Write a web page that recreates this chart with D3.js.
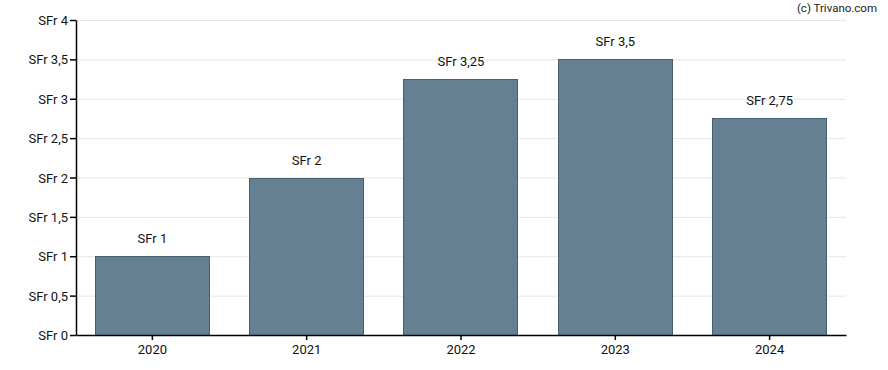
<!DOCTYPE html>
<html>
<head>
<meta charset="utf-8">
<script src="https://cdn.jsdelivr.net/npm/d3@7"></script>
<style>
  body { margin: 0; background: #fff; }
  svg text { font-family: Roboto, "Liberation Sans", sans-serif; }
</style>
</head>
<body>
<div id="chart"></div>
<script>
// values
var years = ['2020', '2021', '2022', '2023', '2024'];
var dividends = [1, 2, 3.25, 3.5, 2.75];
var yTicks = [0, 0.5, 1, 1.5, 2, 2.5, 3, 3.5, 4];

var width = 888, height = 370;
var margin = { top: 20, right: 42, bottom: 35, left: 76 };

function fmt(v) {
    return 'SFr ' + String(v).replace('.', ',');
}

var svg = d3.select('#chart')
    .append('svg')
    .attr('width', width)
    .attr('height', height);

var x = d3.scaleBand()
    .domain(years)
    .range([margin.left, width - margin.right])
    .paddingInner(0.26)
    .paddingOuter(0.125);

var y = d3.scaleLinear()
    .domain([0, 4])
    .range([height - margin.bottom, margin.top]);

// grid lines
svg.append('g')
    .selectAll('line')
    .data(yTicks.slice(1))
    .enter()
    .append('line')
    .attr('x1', margin.left)
    .attr('x2', width - margin.right)
    .attr('y1', function(d) { return y(d) + 0.5; })
    .attr('y2', function(d) { return y(d) + 0.5; })
    .attr('stroke', '#e6e6e6')
    .attr('stroke-width', 1);

// bars
svg.append('g')
    .selectAll('rect')
    .data(dividends)
    .enter()
    .append('rect')
    .attr('x', function(d, i) { return Math.floor(x(years[i])) + 0.5; })
    .attr('y', function(d) { return Math.round(y(d)) + 0.5; })
    .attr('width', Math.round(x.bandwidth()))
    .attr('height', function(d) { return Math.round(y(0)) - Math.round(y(d)); })
    .attr('fill', '#658093')
    .attr('stroke', '#46606f')
    .attr('stroke-width', 1);

// value labels
svg.append('g')
    .selectAll('text')
    .data(dividends)
    .enter()
    .append('text')
    .attr('x', function(d, i) { return x(years[i]) + x.bandwidth() / 2; })
    .attr('y', function(d) { return y(d) - 13; })
    .attr('text-anchor', 'middle')
    .attr('font-size', 13)
    .attr('fill', '#111')
    .text(fmt);

// axes
var yAxis = svg.append('g')
    .attr('transform', 'translate(' + margin.left + ',0)')
    .call(d3.axisLeft(y).tickValues(yTicks).tickSize(6).tickSizeOuter(0).tickFormat(fmt));

var xAxis = svg.append('g')
    .attr('transform', 'translate(0,' + (height - margin.bottom) + ')')
    .call(d3.axisBottom(x).tickSize(5).tickSizeOuter(0));

[yAxis, xAxis].forEach(function(a) {
    a.select('.domain').attr('stroke', '#000').attr('stroke-width', 1.5);
    a.selectAll('.tick line').attr('stroke', '#000').attr('stroke-width', 1.5);
    a.selectAll('text')
        .attr('font-size', 13)
        .attr('fill', '#111')
        .style('font-family', 'Roboto, "Liberation Sans", sans-serif');
});
yAxis.selectAll('text').attr('x', -8).attr('dy', '0.35em');
xAxis.selectAll('text').attr('y', 10);

// credit
svg.append('text')
    .attr('x', 877)
    .attr('y', 12)
    .attr('text-anchor', 'end')
    .attr('font-size', 11.5)
    .attr('fill', '#222')
    .text('(c) Trivano.com');
</script>
</body>
</html>
